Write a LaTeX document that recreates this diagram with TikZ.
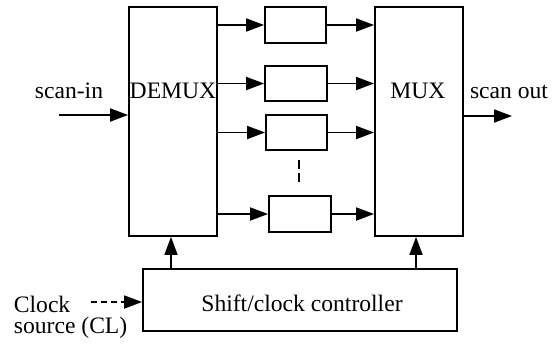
\documentclass[tikz,border=0pt]{standalone}
\usepackage{fontspec}
\setmainfont{Liberation Serif}
\usetikzlibrary{arrows.meta}
\begin{document}
\begin{tikzpicture}[x=0.5pt,y=-0.5pt,
  line width=0.9pt,
  box/.style={draw,inner sep=0pt,line width=0.9pt},
  lbl/.style={inner sep=0pt,anchor=base,font=\fontsize{11.8}{14}\selectfont},
  arr/.style={-{Triangle[length=9pt,width=6.5pt]}}]
\useasboundingbox (0,0) rectangle (555,349);
% main boxes
\node[box,minimum width=44pt,minimum height=114.5pt] (demux) at (173,121.5) {};
\node[box,minimum width=44pt,minimum height=114.5pt] (mux) at (419,121.5) {};
\node[box,minimum width=30.5pt,minimum height=18pt] (b1) at (295.5,25) {};
\node[box,minimum width=31pt,minimum height=17.5pt] (b2) at (296,83.5) {};
\node[box,minimum width=30.5pt,minimum height=17.5pt] (b3) at (296.5,132.5) {};
\node[box,minimum width=31pt,minimum height=18pt] (b4) at (300,214) {};
\node[box,minimum width=157pt,minimum height=31pt] (ctrl) at (300,300) {};
% labels
\node[lbl] (tdemux) at (173,98) {DEMUX};
\node[lbl] (tmux) at (418,98) {MUX};
\node[lbl] (tin) at (69,98) {scan-in};
\node[lbl] (tout) at (509,98) {scan out};
\node[lbl] (tctrl) at (302,311) {Shift/clock controller};
\node[lbl,anchor=base west] (tclock) at (13,312) {Clock};
\node[lbl,anchor=base west] (tsrc) at (13,333) {source (CL)};
% coordinates
\coordinate (inS) at (59,115);
\coordinate (outE) at (512,116);
\coordinate (clkS) at (91,302);
\coordinate (dotA) at (299,160);
\coordinate (dotB) at (299,182);
% connectors
\draw[arr] (inS) -- (inS -| demux.west);
\draw[arr] (mux.east |- outE) -- (outE);
\foreach \b in {b1,b2,b3,b4}{
  \draw[arr] (demux.east |- \b.west) -- (\b.west);
  \draw[arr] (\b.east) -- (mux.west |- \b.east);
}
\draw[arr] (ctrl.north -| 171,0) -- (demux.south -| 171,0);
\draw[arr] (ctrl.north -| 416,0) -- (mux.south -| 416,0);
\draw[arr,dash pattern=on 3pt off 2pt] (clkS) -- (clkS -| ctrl.west);
\draw[dash pattern=on 4.5pt off 2pt] (dotA) -- (dotB);
\end{tikzpicture}
\end{document}
